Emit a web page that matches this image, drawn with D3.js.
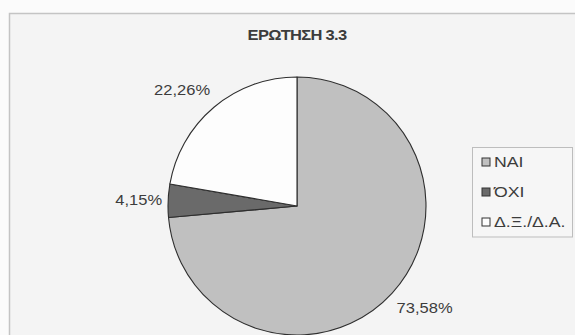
<!DOCTYPE html>
<html>
<head>
<meta charset="utf-8">
<script src="https://cdn.jsdelivr.net/npm/d3@7"></script>
<style>
  html, body { margin: 0; padding: 0; background: #fbfbfb; }
  svg { display: block; }
  text { font-family: "Liberation Sans", Arial, sans-serif; fill: #3c3c3c; }
</style>
</head>
<body>
<script>
// Answers to question 3.3
const categories = ["ΝΑΙ", "ΌΧΙ", "Δ.Ξ./Δ.Α."];
const shares = [73.58, 4.15, 22.26];
const valueLabels = ["73,58%", "4,15%", "22,26%"];
const colors = ["#c0c0c0", "#6a6a6a", "#fdfdfd"];
const title = "ΕΡΩΤΗΣΗ 3.3";

const W = 575, H = 335;
const cx = 297, cy = 206, R = 129;
const stretch = 1.18; // horizontal stretch of the lettering

const svg = d3.select("body").append("svg")
  .attr("width", W).attr("height", H);

// chart area frame
svg.append("rect")
  .attr("x", 9.5).attr("y", 13.5)
  .attr("width", W + 20).attr("height", H + 20)
  .attr("fill", "#f4f4f4")
  .attr("stroke", "#c4c4c4").attr("stroke-width", 1.5);

// title
svg.append("text")
  .attr("transform", `translate(${cx},${40}) scale(${stretch},1)`)
  .attr("text-anchor", "middle")
  .attr("font-size", 14).attr("font-weight", "bold")
  .attr("letter-spacing", -0.6)
  .text(title);

const data = categories.map((c, i) => ({ cat: c, v: shares[i], label: valueLabels[i], color: colors[i] }));

const pie = d3.pie().value(d => d.v).sort(null);
const arc = d3.arc().innerRadius(0).outerRadius(R);
const arcs = pie(data);

const g = svg.append("g").attr("transform", `translate(${cx},${cy})`);
g.selectAll("path").data(arcs).join("path")
  .attr("d", arc)
  .attr("fill", d => d.data.color)
  .attr("stroke", "#2e2e2e").attr("stroke-width", 1.1)
  .attr("stroke-linejoin", "round");

// value labels just outside each slice
g.selectAll("text.val").data(arcs).join("text")
  .attr("class", "val")
  .attr("font-size", 14)
  .attr("text-anchor", d => {
    const s = Math.sin((d.startAngle + d.endAngle) / 2);
    return s > 0.15 ? "start" : s < -0.15 ? "end" : "middle";
  })
  .attr("dy", "0.36em")
  .attr("transform", d => {
    const a = (d.startAngle + d.endAngle) / 2;
    const x = (R + 6) * Math.sin(a);
    const y = -(R + 22) * Math.cos(a);
    return `translate(${x},${y}) scale(${stretch},1)`;
  })
  .text(d => d.data.label);

// legend
const lg = svg.append("g");
const lx = 472.5, ly = 147.5, lw = 100, lh = 89.5;
lg.append("rect")
  .attr("x", lx).attr("y", ly).attr("width", lw).attr("height", lh)
  .attr("fill", "#f6f6f6").attr("stroke", "#bdbdbd").attr("stroke-width", 1);

const rowY = d3.scalePoint().domain(categories).range([162, 222]);
const items = lg.selectAll("g.item").data(data).join("g")
  .attr("class", "item")
  .attr("transform", d => `translate(0,${rowY(d.cat)})`);
items.append("rect")
  .attr("x", 482).attr("y", -4).attr("width", 8).attr("height", 8)
  .attr("fill", d => d.color)
  .attr("stroke", "#333").attr("stroke-width", 1);
items.append("text")
  .attr("transform", `translate(494,0) scale(${stretch},1)`)
  .attr("dy", "0.36em")
  .attr("font-size", 15)
  .text(d => d.cat);
</script>
</body>
</html>
